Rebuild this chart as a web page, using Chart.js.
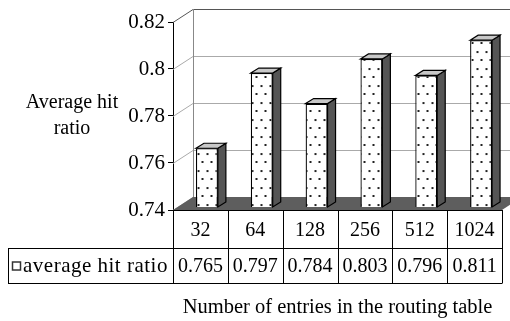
<!DOCTYPE html>
<html>
<head>
<meta charset="utf-8">
<script src="https://cdn.jsdelivr.net/npm/chart.js@4.4.0/dist/chart.umd.min.js"></script>
<style>
  html, body { margin: 0; padding: 0; background: #fff; }
  #wrap { width: 510px; height: 321px; position: relative; }
</style>
</head>
<body>
<div id="wrap"><canvas id="c"></canvas></div>
<script>
// --- data ---
const entries = ['32', '64', '128', '256', '512', '1024'];
const hitRatio = [0.765, 0.797, 0.784, 0.803, 0.796, 0.811];
const seriesName = 'average hit ratio';
const yTicks = [0.74, 0.76, 0.78, 0.8, 0.82];
const yTitle = ['Average hit', 'ratio'];
const xTitle = 'Number of entries in the routing table';

const FONT = 'Liberation Serif, Times New Roman, Times, serif';

// 3D look: wall depth, bar shift inside the depth, bar side depth
const DX = 20, DY = -13;
const SX = 6.5, SY = -3;
const BX = 8, BY = -5;

// table rows
const ROW1 = 248, ROW2 = 283, TABLE_LEFT = 8;

function dotPattern(ctx) {
    const p = document.createElement('canvas');
    p.width = 9; p.height = 17;
    const g = p.getContext('2d');
    g.fillStyle = '#fff';
    g.fillRect(0, 0, 9, 17);
    g.fillStyle = '#222';
    g.fillRect(2, 3, 2, 2);
    g.fillRect(6, 11, 2, 2);
    return ctx.createPattern(p, 'repeat');
}

const excel3d = {
    id: 'excel3d',
    beforeDatasetsDraw(chart) {
        const { ctx, chartArea: a, scales: { x, y } } = chart;
        ctx.save();
        // back wall + side wall grid lines
        ctx.lineWidth = 1;
        yTicks.forEach(v => {
            const py = Math.round(y.getPixelForValue(v)) + 0.5;
            ctx.strokeStyle = v === yTicks[yTicks.length - 1] ? '#555' : '#aaa';
            ctx.beginPath();
            ctx.moveTo(a.left, py);
            ctx.lineTo(a.left + DX, py + DY);
            ctx.lineTo(a.right + DX + 20, py + DY);
            ctx.stroke();
        });
        ctx.strokeStyle = '#888';
        ctx.beginPath();
        ctx.moveTo(a.left + DX + 0.5, a.top + DY);
        ctx.lineTo(a.left + DX + 0.5, a.bottom + DY);
        ctx.stroke();

        // floor
        ctx.fillStyle = '#5e5e5e';
        ctx.beginPath();
        ctx.moveTo(a.left, a.bottom);
        ctx.lineTo(a.right, a.bottom);
        ctx.lineTo(a.right + DX, a.bottom + DY);
        ctx.lineTo(a.left + DX, a.bottom + DY);
        ctx.closePath();
        ctx.fill();

        // side and top faces of the bars
        const meta = chart.getDatasetMeta(0);
        const floorY = y.getPixelForValue(y.min);
        ctx.strokeStyle = '#000';
        ctx.lineWidth = 1.2;
        meta.data.forEach(bar => {
            const l = bar.x - bar.width / 2 + SX;
            const r = bar.x + bar.width / 2 + SX;
            const t = bar.y + SY;
            const b = floorY + SY;
            ctx.fillStyle = '#555';
            ctx.beginPath();
            ctx.moveTo(r, t);
            ctx.lineTo(r + BX, t + BY);
            ctx.lineTo(r + BX, b + BY);
            ctx.lineTo(r, b);
            ctx.closePath();
            ctx.fill();
            ctx.stroke();
            ctx.fillStyle = '#c8c8c8';
            ctx.beginPath();
            ctx.moveTo(l, t);
            ctx.lineTo(l + BX, t + BY);
            ctx.lineTo(r + BX, t + BY);
            ctx.lineTo(r, t);
            ctx.closePath();
            ctx.fill();
            ctx.stroke();
        });
        ctx.restore();

        // front faces are drawn by Chart.js, shifted into the depth
        ctx.save();
        ctx.translate(SX, SY);
    },
    afterDatasetsDraw(chart) {
        chart.ctx.restore();
    },
    afterDraw(chart) {
        const { ctx, chartArea: a, scales: { x } } = chart;
        const step = (x.right - x.left) / entries.length;
        ctx.save();
        ctx.strokeStyle = '#000';
        ctx.lineWidth = 1;

        // grid of the data table
        ctx.beginPath();
        for (let i = 0; i <= entries.length; i++) {
            const px = Math.round(x.left + i * step) + 0.5;
            ctx.moveTo(px, a.bottom);
            ctx.lineTo(px, ROW2);
        }
        ctx.moveTo(a.left, a.bottom + 0.5);
        ctx.lineTo(a.right, a.bottom + 0.5);
        ctx.moveTo(TABLE_LEFT, ROW1 + 0.5);
        ctx.lineTo(a.right + 0.5, ROW1 + 0.5);
        ctx.moveTo(TABLE_LEFT, ROW2 + 0.5);
        ctx.lineTo(a.right + 0.5, ROW2 + 0.5);
        ctx.moveTo(TABLE_LEFT + 0.5, ROW1);
        ctx.lineTo(TABLE_LEFT + 0.5, ROW2);
        ctx.stroke();

        // series row
        const cy = (ROW1 + ROW2) / 2 + 1;
        ctx.fillStyle = '#fff';
        ctx.fillRect(TABLE_LEFT + 4, cy - 5, 9, 9);
        ctx.strokeStyle = '#333';
        ctx.lineWidth = 1.5;
        ctx.strokeRect(TABLE_LEFT + 4.5, cy - 4.5, 8, 8);
        ctx.fillStyle = '#000';
        ctx.font = '21px ' + FONT;
        ctx.textBaseline = 'middle';
        ctx.textAlign = 'left';
        ctx.letterSpacing = '0.5px';
        ctx.fillText(seriesName, TABLE_LEFT + 15, cy);
        ctx.letterSpacing = '0px';
        ctx.font = '20px ' + FONT;
        ctx.textAlign = 'center';
        hitRatio.forEach((v, i) => {
            ctx.fillText(v.toFixed(3), x.getPixelForValue(i), cy);
        });

        // y title, horizontal on two lines
        yTitle.forEach((line, i) => {
            ctx.fillText(line, 72, 103 + i * 26);
        });
        ctx.restore();
    }
};

const ctx = document.getElementById('c').getContext('2d');

new Chart(ctx, {
    type: 'bar',
    data: {
        labels: entries,
        datasets: [{
            label: seriesName,
            data: hitRatio,
            backgroundColor: dotPattern(ctx),
            borderColor: '#000',
            borderWidth: 1.3,
            borderSkipped: false,
            barPercentage: 0.4,
            categoryPercentage: 1.0
        }]
    },
    options: {
        responsive: true,
        maintainAspectRatio: false,
        animation: false,
        layout: { padding: { top: 22, right: 8, left: 0, bottom: 1 } },
        plugins: {
            legend: { display: false },
            tooltip: { enabled: false }
        },
        scales: {
            y: {
                min: 0.74,
                max: 0.82,
                afterFit(scale) { scale.width = 173; },
                afterBuildTicks(scale) { scale.ticks = yTicks.map(v => ({ value: v })); },
                ticks: {
                    color: '#000',
                    font: { family: FONT, size: 21 },
                    padding: 3,
                    callback: v => String(Number(v.toFixed(2)))
                },
                grid: { drawOnChartArea: false, drawTicks: true, tickLength: 5, color: '#000' },
                border: { display: true, color: '#000', width: 1 }
            },
            x: {
                afterFit(scale) { scale.height = 110; },
                ticks: { color: '#000', font: { family: FONT, size: 20 }, padding: 1 },
                grid: { display: false },
                border: { display: false },
                title: {
                    display: true,
                    text: xTitle,
                    color: '#000',
                    font: { family: FONT, size: 20.5 },
                    padding: 0
                }
            }
        }
    },
    plugins: [excel3d]
});
</script>
</body>
</html>
